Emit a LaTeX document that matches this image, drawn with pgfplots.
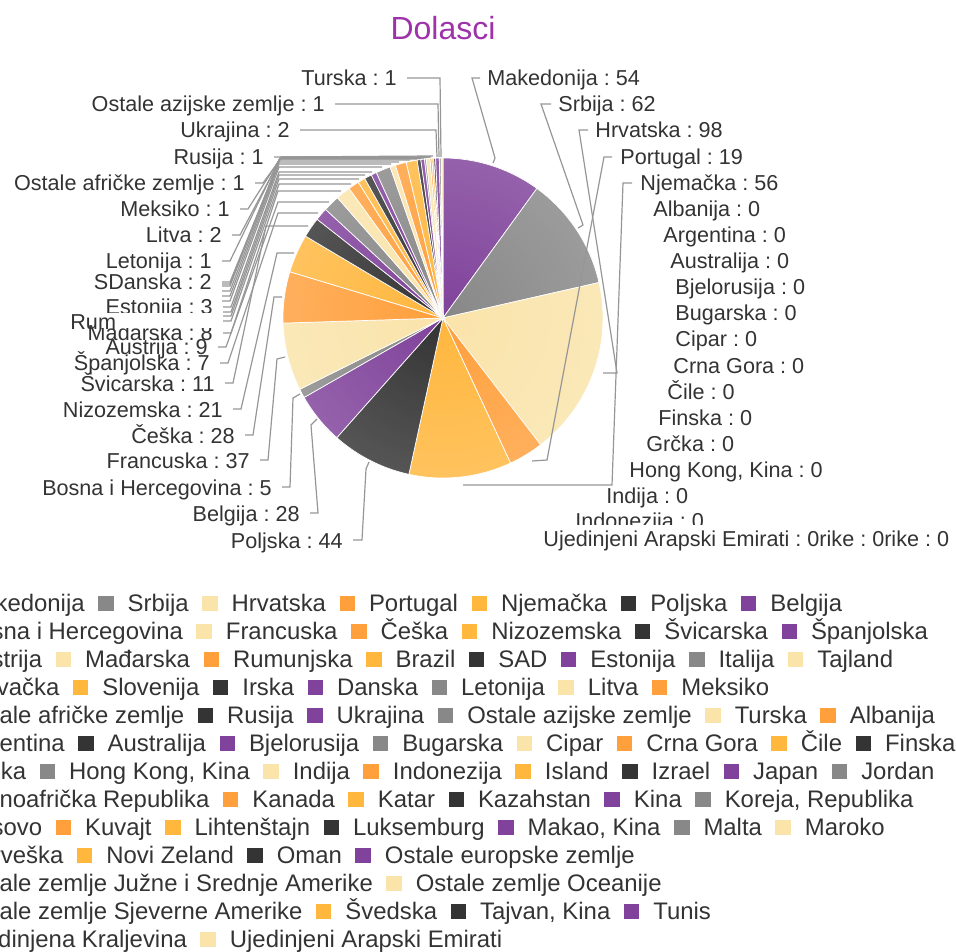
\documentclass[border=0pt]{standalone}
\usepackage{pgfplots}
\pgfplotsset{compat=1.18}
\usepackage{pgfplotstable}
\usepackage{fontspec}
\setmainfont{Liberation Sans}
\usetikzlibrary{fadings}
\frenchspacing

\definecolor{pc0}{RGB}{128,66,155}
\definecolor{pc1}{RGB}{136,136,136}
\definecolor{pc2}{RGB}{250,228,170}
\definecolor{pc3}{RGB}{255,160,60}
\definecolor{pc4}{RGB}{255,183,62}
\definecolor{pc5}{RGB}{52,52,52}
\definecolor{txt}{RGB}{51,51,51}
\definecolor{ttl}{RGB}{158,50,170}
\definecolor{cngray}{RGB}{150,150,150}

\newlength\px \setlength\px{0.5pt}
\newcommand\legfont{\fontsize{11.95pt}{14pt}\selectfont}
\newcommand\labfont{\fontsize{10.8pt}{13pt}\selectfont}
\newcommand\titlefont{\fontsize{16pt}{19pt}\selectfont}
\newcommand\sq[1]{\textcolor{#1}{\rule[0.5\px]{15.5\px}{15.5\px}}}
\newcommand\li[2]{\sq{#1}\hspace{14\px}#2\hspace{13.5\px}}

\pgfdeclareradialshading{glowshade}{\pgfpointorigin}{color(0bp)=(black); color(12bp)=(black!92!white); color(30bp)=(black!80!white); color(44bp)=(black!93!white); color(50bp)=(black)}
\pgfdeclarefading{glow}{\pgfuseshading{glowshade}}
\pgfdeclareradialshading{rimshade}{\pgfpointorigin}{color(0bp)=(black); color(34bp)=(black); color(50bp)=(black!88!white)}
\pgfdeclarefading{rimfade}{\pgfuseshading{rimshade}}

% arrivals, in slice order (clockwise from the top)
\pgfplotstableread{
v
54
62
98
19
56
44
28
5
37
28
21
11
7
9
8
6
4
4
3
8
3
6
6
2
2
1
2
1
1
1
2
1
1
}\piedata

\pgfplotstablegetrowsof{\piedata}
\pgfmathtruncatemacro\Nlast{\pgfplotsretval-1}
\gdef\tot{0}
\foreach \i in {0,...,\Nlast}{\pgfplotstablegetelem{\i}{v}\of\piedata\pgfmathsetmacro\t{\tot+\pgfplotsretval}\xdef\tot{\t}}

\tikzset{cn/.style={draw=cngray, line width=0.6pt},
  ll/.style={anchor=base east, inner sep=0pt, font=\labfont, text=txt},
  rl/.style={anchor=base west, inner sep=0pt, font=\labfont, text=txt},
  lg/.style={anchor=base west, inner sep=0pt, font=\legfont, text=txt}}

\begin{document}
\begin{tikzpicture}
\begin{axis}[at={(0,0)}, anchor=south west, width=478pt, height=475.5pt, scale only axis,
  xmin=0, xmax=956, ymin=0, ymax=951, y dir=reverse, hide axis, clip=false]

% pie slices
\xdef\cum{0}
\foreach \i in {0,...,\Nlast}{%
  \pgfplotstablegetelem{\i}{v}\of\piedata
  \let\val\pgfplotsretval
  \pgfmathsetmacro\fS{\cum/\tot}%
  \pgfmathsetmacro\fE{(\cum+\val)/\tot}%
  \pgfmathsetmacro\aS{90-360*\fS}%
  \pgfmathsetmacro\aE{90-360*\fE}%
  \pgfmathtruncatemacro\ci{mod(\i,6)}%
  \pgfmathsetmacro\nc{\cum+\val}\xdef\cum{\nc}%
  \edef\tmp{\noexpand\fill[pc\ci,draw=white,line width=0.35pt] (axis cs:443,318) -- ++(\aS:80pt) arc[start angle=\aS,end angle=\aE,radius=80pt] -- cycle;}%
  \tmp
}
\fill[white, path fading=glow] (axis cs:443,318) circle[radius=80pt];
\fill[black, path fading=rimfade] (axis cs:443,318) circle[radius=80pt];

% title
\node[anchor=base, inner sep=0pt, font=\titlefont, text=ttl] at (axis cs:443,39.5) {Dolasci};

% connectors, right side
\draw[cn] (axis cs:480,78) -- (axis cs:472,78) -- (axis cs:495,158) -- (axis cs:493,163);
\draw[cn] (axis cs:551,104) -- (axis cs:541,104) -- (axis cs:583,225) -- (axis cs:578,228);
\draw[cn] (axis cs:588,130) -- (axis cs:579,130) -- (axis cs:617,373) -- (axis cs:603,373);
\draw[cn] (axis cs:612,157) -- (axis cs:604,157) -- (axis cs:547,460) -- (axis cs:532,461);
\draw[cn] (axis cs:632,183) -- (axis cs:623,183) -- (axis cs:612,485) -- (axis cs:463,485);
% connectors, left side
\draw[cn] (axis cs:407,78) -- (axis cs:440,78) -- (axis cs:441,157);
\draw[cn] (axis cs:335,104) -- (axis cs:438,104) -- (axis cs:439,157);
\draw[cn] (axis cs:300,130) -- (axis cs:436,130) -- (axis cs:437,157);
\draw[cn] (axis cs:274,157) -- (axis cs:282,157) -- (axis cs:433,156);
\draw[cn] (axis cs:255,183) -- (axis cs:263,183) -- (axis cs:282,157) -- (axis cs:431,157);
\draw[cn] (axis cs:240,209) -- (axis cs:248,209) -- (axis cs:281,157) -- (axis cs:430,157);
\draw[cn] (axis cs:232,235) -- (axis cs:240,235) -- (axis cs:281,157.5) -- (axis cs:427,157.5);
\draw[cn] (axis cs:222,261) -- (axis cs:230,261) -- (axis cs:280,158) -- (axis cs:424,158);
\draw[cn] (axis cs:222,282) -- (axis cs:230,282) -- (axis cs:280,158.5) -- (axis cs:421,158.5);
\draw[cn] (axis cs:222,284) -- (axis cs:230,284) -- (axis cs:280,159) -- (axis cs:417,159);
\draw[cn] (axis cs:222,286) -- (axis cs:230,286) -- (axis cs:279,160) -- (axis cs:410,160);
\draw[cn] (axis cs:222,291) -- (axis cs:230,291) -- (axis cs:279,162) -- (axis cs:399,162);
\draw[cn] (axis cs:222,296) -- (axis cs:230,296) -- (axis cs:279,164) -- (axis cs:391,164);
\draw[cn] (axis cs:222,301) -- (axis cs:230,301) -- (axis cs:279,167) -- (axis cs:382,167);
\draw[cn] (axis cs:223,307) -- (axis cs:231,307) -- (axis cs:279,172) -- (axis cs:372,172);
\draw[cn] (axis cs:223,312) -- (axis cs:231,312) -- (axis cs:279,175) -- (axis cs:365,175);
\draw[cn] (axis cs:223,316) -- (axis cs:231,316) -- (axis cs:279,179) -- (axis cs:359,179);
\draw[cn] (axis cs:223,321) -- (axis cs:231,321) -- (axis cs:279,184) -- (axis cs:351,184);
\draw[cn] (axis cs:223,333) -- (axis cs:231,333) -- (axis cs:278,191) -- (axis cs:341,191);
\draw[cn] (axis cs:218,347) -- (axis cs:226,347) -- (axis cs:278,202) -- (axis cs:329,202);
\draw[cn] (axis cs:220,363) -- (axis cs:228,363) -- (axis cs:278,213) -- (axis cs:318,213);
\draw[cn] (axis cs:225,383) -- (axis cs:233,383) -- (axis cs:266,226) -- (axis cs:308,226);
\draw[cn] (axis cs:233,409) -- (axis cs:241,409) -- (axis cs:277,253) -- (axis cs:294,253);
\draw[cn] (axis cs:245,435) -- (axis cs:253,435) -- (axis cs:274,297) -- (axis cs:282,297);
\draw[cn] (axis cs:260,460) -- (axis cs:268,460) -- (axis cs:277,359) -- (axis cs:285,357);
\draw[cn] (axis cs:282,487) -- (axis cs:290,487) -- (axis cs:293,398) -- (axis cs:300,394);
\draw[cn] (axis cs:310,513) -- (axis cs:318,513) -- (axis cs:311,425) -- (axis cs:317,419);
\draw[cn] (axis cs:353,540) -- (axis cs:362,540) -- (axis cs:366,469) -- (axis cs:369,462);

% labels, left
\node[ll] at (axis cs:397,86) {Turska : 1};
\node[ll] at (axis cs:325,112) {Ostale azijske zemlje : 1};
\node[ll] at (axis cs:290,138) {Ukrajina : 2};
\node[ll] at (axis cs:264,165) {Rusija : 1};
\node[ll] at (axis cs:245,191) {Ostale afričke zemlje : 1};
\node[ll] at (axis cs:230,217) {Meksiko : 1};
\node[ll] at (axis cs:222,243) {Litva : 2};
\node[ll] at (axis cs:212,269) {Letonija : 1};
\node[ll] at (axis cs:212,290) {SDanska : 2};
\node[ll] at (axis cs:213,315) {Estonija : 3};
\node[ll] at (axis cs:213,341) {Mađarska : 8};
\fill[white] (axis cs:95,313) rectangle (axis cs:215,328);
\node[rl] at (axis cs:70,330) {Rum};
\node[ll] at (axis cs:208,355) {Austrija : 9};
\node[ll] at (axis cs:210,371) {Španjolska : 7};
\node[ll] at (axis cs:215,391) {Švicarska : 11};
\node[ll] at (axis cs:223,417) {Nizozemska : 21};
\node[ll] at (axis cs:235,443) {Češka : 28};
\node[ll] at (axis cs:250,468) {Francuska : 37};
\node[ll] at (axis cs:272,495) {Bosna i Hercegovina : 5};
\node[ll] at (axis cs:300,521) {Belgija : 28};
\node[ll] at (axis cs:343,548) {Poljska : 44};

% labels, right
\node[rl] at (axis cs:487,86) {Makedonija : 54};
\node[rl] at (axis cs:558,112) {Srbija : 62};
\node[rl] at (axis cs:595,138) {Hrvatska : 98};
\node[rl] at (axis cs:620,165) {Portugal : 19};
\node[rl] at (axis cs:640,191) {Njemačka : 56};
\node[rl] at (axis cs:653,217) {Albanija : 0};
\node[rl] at (axis cs:663,243) {Argentina : 0};
\node[rl] at (axis cs:670,269) {Australija : 0};
\node[rl] at (axis cs:675,295) {Bjelorusija : 0};
\node[rl] at (axis cs:675,321) {Bugarska : 0};
\node[rl] at (axis cs:675,347) {Cipar : 0};
\node[rl] at (axis cs:673,373) {Crna Gora : 0};
\node[rl] at (axis cs:667,399) {Čile : 0};
\node[rl] at (axis cs:658,425) {Finska : 0};
\node[rl] at (axis cs:646,451) {Grčka : 0};
\node[rl] at (axis cs:629,477) {Hong Kong, Kina : 0};
\node[rl] at (axis cs:606,503) {Indija : 0};
\node[rl] at (axis cs:575,528) {Indonezija : 0};
\fill[white] (axis cs:540,525) rectangle (axis cs:956,552);
\node[rl] at (axis cs:543,546) {Ujedinjeni Arapski Emirati : 0rike : 0rike : 0};

% legend
\node[lg] at (axis cs:-67.5,611.5) {\li{pc0}{Makedonija}\li{pc1}{Srbija}\li{pc2}{Hrvatska}\li{pc3}{Portugal}\li{pc4}{Njemačka}\li{pc5}{Poljska}\li{pc0}{Belgija}};
\node[lg] at (axis cs:-67.5,639.5) {\li{pc1}{Bosna i Hercegovina}\li{pc2}{Francuska}\li{pc3}{Češka}\li{pc4}{Nizozemska}\li{pc5}{Švicarska}\li{pc0}{Španjolska}};
\node[lg] at (axis cs:-67.5,667.5) {\li{pc1}{Austrija}\li{pc2}{Mađarska}\li{pc3}{Rumunjska}\li{pc4}{Brazil}\li{pc5}{SAD}\li{pc0}{Estonija}\li{pc1}{Italija}\li{pc2}{Tajland}};
\node[lg] at (axis cs:-67.5,695.5) {\li{pc3}{Slovačka}\li{pc4}{Slovenija}\li{pc5}{Irska}\li{pc0}{Danska}\li{pc1}{Letonija}\li{pc2}{Litva}\li{pc3}{Meksiko}};
\node[lg] at (axis cs:-67.5,723.5) {\li{pc4}{Ostale afričke zemlje}\li{pc5}{Rusija}\li{pc0}{Ukrajina}\li{pc1}{Ostale azijske zemlje}\li{pc2}{Turska}\li{pc3}{Albanija}};
\node[lg] at (axis cs:-67.5,751.5) {\li{pc4}{Argentina}\li{pc5}{Australija}\li{pc0}{Bjelorusija}\li{pc1}{Bugarska}\li{pc2}{Cipar}\li{pc3}{Crna Gora}\li{pc4}{Čile}\li{pc5}{Finska}};
\node[lg] at (axis cs:-67.5,779.5) {\li{pc0}{Grčka}\li{pc1}{Hong Kong, Kina}\li{pc2}{Indija}\li{pc3}{Indonezija}\li{pc4}{Island}\li{pc5}{Izrael}\li{pc0}{Japan}\li{pc1}{Jordan}};
\node[lg] at (axis cs:-67.5,807.5) {\li{pc2}{Južnoafrička Republika}\li{pc3}{Kanada}\li{pc4}{Katar}\li{pc5}{Kazahstan}\li{pc0}{Kina}\li{pc1}{Koreja, Republika}};
\node[lg] at (axis cs:-67.5,835.5) {\li{pc2}{Kosovo}\li{pc3}{Kuvajt}\li{pc4}{Lihtenštajn}\li{pc5}{Luksemburg}\li{pc0}{Makao, Kina}\li{pc1}{Malta}\li{pc2}{Maroko}};
\node[lg] at (axis cs:-67.5,863.5) {\li{pc3}{Norveška}\li{pc4}{Novi Zeland}\li{pc5}{Oman}\li{pc0}{Ostale europske zemlje}};
\node[lg] at (axis cs:-67.5,891.5) {\li{pc1}{Ostale zemlje Južne i Srednje Amerike}\li{pc2}{Ostale zemlje Oceanije}};
\node[lg] at (axis cs:-67.5,919.5) {\li{pc3}{Ostale zemlje Sjeverne Amerike}\li{pc4}{Švedska}\li{pc5}{Tajvan, Kina}\li{pc0}{Tunis}};
\node[lg] at (axis cs:-67.5,947.5) {\li{pc1}{Ujedinjena Kraljevina}\li{pc2}{Ujedinjeni Arapski Emirati}};
\end{axis}
\pgfresetboundingbox
\path[use as bounding box] (0,0) rectangle (478pt,475.5pt);
\end{tikzpicture}
\end{document}
